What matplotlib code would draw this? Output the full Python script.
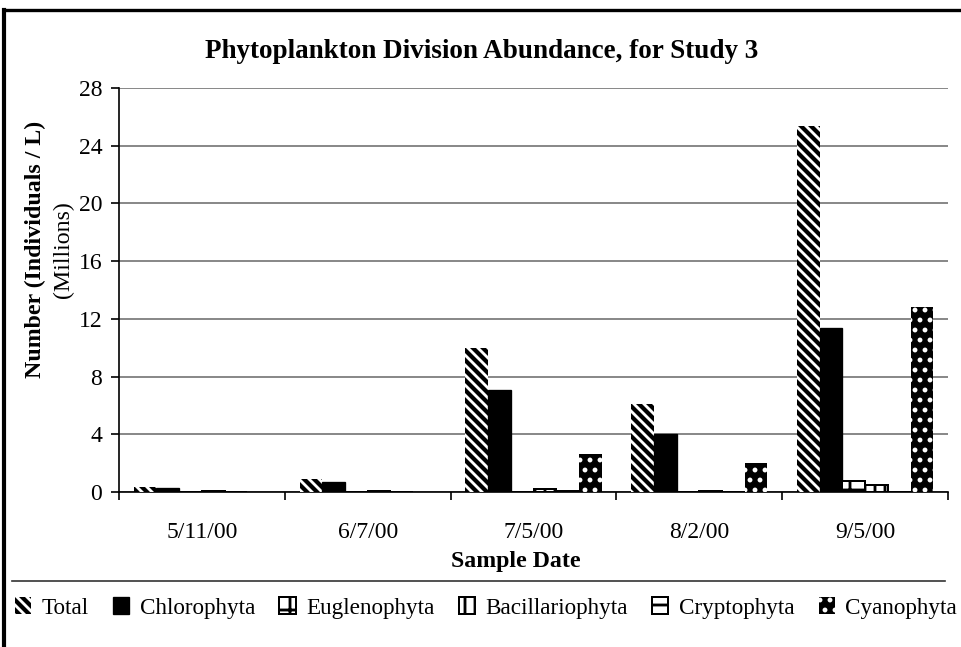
import numpy as np
import matplotlib
matplotlib.use("Agg")
import matplotlib.pyplot as plt
from matplotlib.lines import Line2D

# Sample dates and abundance by division (millions of individuals per litre)
dates = ["5/11/00", "6/7/00", "7/5/00", "8/2/00", "9/5/00"]
total = [0.35, 0.9, 10.0, 6.1, 25.4]
chlorophyta = [0.25, 0.7, 7.1, 4.0, 11.4]
euglenophyta = [0.0, 0.0, 0.0, 0.0, 0.75]
bacillariophyta = [0.1, 0.08, 0.2, 0.1, 0.5]
cryptophyta = [0.0, 0.0, 0.05, 0.0, 0.0]
cyanophyta = [0.0, 0.0, 2.6, 2.0, 12.8]
y_ticks = [0, 4, 8, 12, 16, 20, 24, 28]

DPI = 120
plt.rcParams["font.family"] = ["Liberation Serif", "DejaVu Serif"]
plt.rcParams["hatch.linewidth"] = 1.7

fig = plt.figure(figsize=(961 / DPI, 647 / DPI), dpi=DPI)
W, H = 961, 647
ax = fig.add_axes([119 / W, 1 - 492 / H, (948 - 119) / W, (492 - 88) / H])

series = [
    ("Total", total, dict(facecolor="black", edgecolor="white", hatch="\\\\\\\\", linewidth=0)),
    ("Chlorophyta", chlorophyta, dict(facecolor="black", edgecolor="black", linewidth=0.8)),
    ("Euglenophyta", euglenophyta, dict(facecolor="white", edgecolor="black", hatch="+", linewidth=1.2)),
    ("Bacillariophyta", bacillariophyta, dict(facecolor="white", edgecolor="black", hatch="||", linewidth=1.2)),
    ("Cryptophyta", cryptophyta, dict(facecolor="white", edgecolor="black", hatch="--", linewidth=1.2)),
    ("Cyanophyta", cyanophyta, dict(facecolor="black", edgecolor="white", hatch="..", linewidth=0)),
]

x = np.arange(len(dates))
bw = 0.137
n = len(series)
for k, (name, vals, style) in enumerate(series):
    ax.bar(x + (k - (n - 1) / 2) * bw, vals, width=bw, label=name, zorder=3, **style)

ax.set_xlim(-0.5, len(dates) - 0.5)
ax.set_ylim(0, 28)
ax.set_yticks(y_ticks)
ax.set_xticks(x)
ax.set_xticklabels(dates)
ax.set_xticks(np.arange(len(dates) + 1) - 0.5, minor=True)
ax.tick_params(axis="x", which="major", length=0, pad=18, labelsize=14.2)
ax.tick_params(axis="x", which="minor", length=5, width=1, direction="out")
ax.tick_params(axis="y", length=5, width=1, direction="out", pad=5, labelsize=14.2)

ax.yaxis.grid(True, color="#8a8a8a", linewidth=1.2, zorder=0)
ax.set_axisbelow(True)
for s in ("top", "right"):
    ax.spines[s].set_visible(False)
ax.spines["left"].set_linewidth(1.0)
ax.spines["bottom"].set_linewidth(1.0)

# Titles and axis labels
fig.text(482 / W, 1 - 52 / H, "Phytoplankton Division Abundance, for Study 3",
         ha="center", va="center", fontsize=16.3, fontweight="bold")
fig.text(516 / W, 1 - 561 / H, "Sample Date", ha="center", va="center",
         fontsize=14.3, fontweight="bold")
fig.text(35 / W, 1 - 249 / H, "Number (Individuals / L)", ha="center", va="center",
         rotation=90, fontsize=14.3, fontweight="bold")
fig.text(63 / W, 1 - 250 / H, "(Millions)", ha="center", va="center",
         rotation=90, fontsize=14.3)

# Legend along the bottom
fig.legend(loc="center", bbox_to_anchor=(486 / W, 1 - 608 / H), ncol=6, frameon=False,
           fontsize=13.9, handlelength=0.7, handleheight=0.7, handletextpad=0.45,
           columnspacing=1.05, borderaxespad=0, borderpad=0)

# Frame lines around the chart
fig.add_artist(Line2D([4 / W, 4 / W], [0, 1 - 10 / H], transform=fig.transFigure,
                      color="black", linewidth=2.5))
fig.add_artist(Line2D([4 / W, 1], [1 - 10 / H, 1 - 10 / H], transform=fig.transFigure,
                      color="black", linewidth=2.0))
fig.add_artist(Line2D([12 / W, 945 / W], [1 - 581 / H, 1 - 581 / H], transform=fig.transFigure,
                      color="#333333", linewidth=1.0))

fig.savefig("out.png", dpi=DPI)
